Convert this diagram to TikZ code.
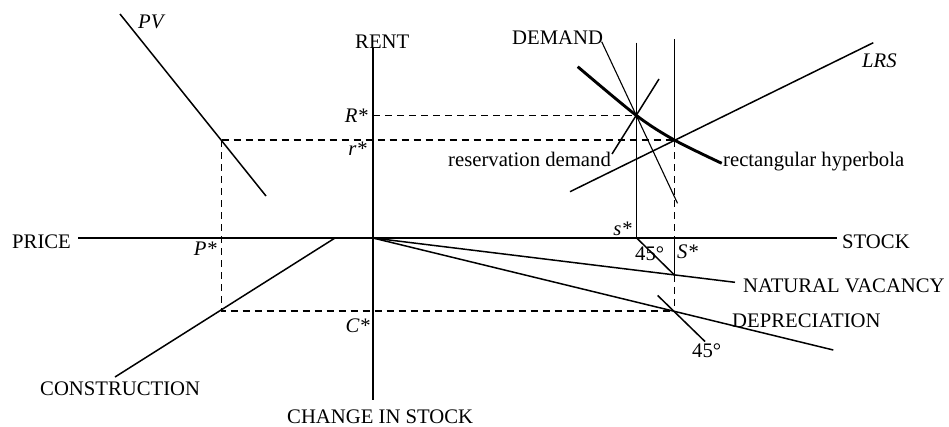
\documentclass[tikz,border=0pt]{standalone}
\usepackage{fontspec}
\setmainfont{Liberation Serif}
\begin{document}
\begin{tikzpicture}[x=1pt,y=-1pt,
  lab/.style={font=\fontsize{20.7}{24}\selectfont, inner sep=0pt},
  ilab/.style={inner sep=0pt, font=\fontsize{20.7}{24}\selectfont\itshape},
  axisline/.style={line width=1.6pt},
  curveline/.style={line width=1.5pt},
  thinline/.style={line width=1.1pt},
  thickline/.style={line width=2.9pt},
  guide/.style={line width=1.2pt, dash pattern=on 7pt off 5pt}]
\useasboundingbox (0,0) rectangle (949,426);
% axes
\coordinate (O) at (373,238);
\coordinate (vtop) at (373,48);
\coordinate (vbot) at (373,400);
\coordinate (hleft) at (78,238);
\coordinate (hright) at (837,238);
\draw[axisline] (vtop) -- (vbot);
\draw[axisline] (hleft) -- (hright);
% key points
\coordinate (Pc) at (221.7,140);
\coordinate (Cc) at (221.7,311);
\coordinate (Rax) at (373,115.7);
\coordinate (E1) at (636.7,115.7);
\coordinate (E2) at (674.3,140);
\coordinate (S2ax) at (674.3,238);
\coordinate (NV) at (674.3,274.9);
\coordinate (S2c) at (674.3,311);
\coordinate (s1ax) at (636.7,238);
% PV
\coordinate (pv1) at (120,14);
\coordinate (pv2) at (266,196);
\draw[curveline] (pv1) -- (pv2);
% construction
\coordinate (c1) at (335,238);
\coordinate (c2) at (115,377);
\draw[curveline] (c1) -- (c2);
% dashed guides
\draw[guide] (Pc) -- (E2);
\draw[guide] (Pc) -- (Cc) -- (S2c);
\draw[guide] (Rax) -- (E1);
% verticals
\coordinate (v1top) at (636.7,42.7);
\coordinate (v2top) at (674.3,39.3);
\draw[curveline] (v1top) -- (s1ax);
\draw[curveline] (v2top) -- (E2);
\draw[guide] (E2) -- (S2ax);
\draw[curveline] (S2ax) -- (NV);
\draw[guide] (NV) -- (S2c);
% natural vacancy, depreciation
\coordinate (nvend) at (735,282.3);
\coordinate (dpend) at (833.3,350);
\draw[curveline] (O) -- (nvend);
\draw[curveline] (O) -- (dpend);
% 45 degree lines
\coordinate (q1) at (657.7,295.5);
\coordinate (q2) at (705,341.5);
\draw[curveline] (s1ax) -- (NV);
\draw[curveline] (q1) -- (q2);
% demand, reservation demand, LRS
\coordinate (d1) at (601.7,41.7);
\coordinate (d2) at (677.5,203.3);
\draw[thinline] (d1) -- (d2);
\coordinate (r1) at (659,79);
\coordinate (r2) at (612,154);
\draw[curveline] (r1) -- (r2);
\coordinate (l1) at (570,191.7);
\coordinate (l2) at (873.3,42.7);
\draw[curveline] (l1) -- (l2);
% rectangular hyperbola
\draw[thickline] plot[smooth] coordinates {(577.7,66.7) (636.7,115.7) (674.3,140) (721.7,163.3)};
% labels
\node[ilab, anchor=base west] (pvlab) at (138,28) {PV};
\node[lab, anchor=base west] (rent) at (355,48) {RENT};
\node[ilab, anchor=base east] (Rs) at (368,122) {R*};
\node[ilab, anchor=base east] (rs) at (367,155) {r*};
\node[ilab, anchor=base east] (Ps) at (217,255) {P*};
\node[ilab, anchor=base east] (Cs) at (370,332) {C*};
\node[ilab, anchor=base east] (ss) at (632,235) {s*};
\node[ilab, anchor=base west] (Ss) at (677,258) {S*};
\node[lab, anchor=base west] (a45a) at (635,260) {45°};
\node[lab, anchor=base west] (a45b) at (692,357) {45°};
\node[lab, anchor=base west] (dem) at (512,44) {DEMAND};
\node[ilab, anchor=base west] (lrs) at (862,67) {LRS};
\node[lab, anchor=base west] (resd) at (448,166) {reservation demand};
\node[lab, anchor=base west] (recth) at (723,166) {rectangular hyperbola};
\node[lab, anchor=base west] (price) at (12,248) {PRICE};
\node[lab, anchor=base west] (stock) at (842,248) {STOCK};
\node[lab, anchor=base west] (natv) at (743,292) {NATURAL VACANCY};
\node[lab, anchor=base west] (depr) at (732,327) {DEPRECIATION};
\node[lab, anchor=base west] (constr) at (40,395) {CONSTRUCTION};
\node[lab, anchor=base west] (chg) at (287,423) {CHANGE IN STOCK};
\end{tikzpicture}
\end{document}
